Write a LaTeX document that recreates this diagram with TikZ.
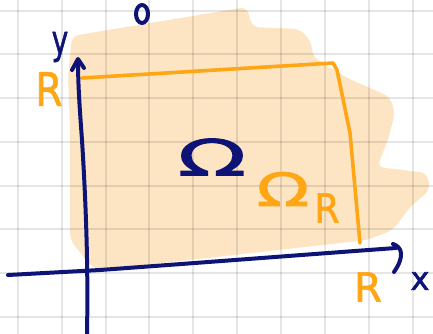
\documentclass[tikz,border=0pt]{standalone}
\usepackage{fontspec}
\setmainfont{DejaVu Sans}
\newfontfamily\handfont[FakeBold=1.6]{DejaVu Sans}
\definecolor{navy}{RGB}{14,20,118}
\definecolor{penorange}{RGB}{255,166,20}
\definecolor{peach}{RGB}{253,229,196}
\tikzset{
  bluepen/.style={draw=navy,line width=4pt,line cap=round,line join=round},
  orangepen/.style={draw=penorange,line width=3.6pt,line cap=round,line join=round},
  gridline/.style={draw=black,draw opacity=0.1,line width=1.3pt},
  bluelabel/.style={text=navy,inner sep=0pt,anchor=center},
  orangelabel/.style={text=penorange,inner sep=0pt,anchor=center}
}
\begin{document}
\begin{tikzpicture}[x=1pt,y=-1pt]
\useasboundingbox (0,0) rectangle (433,334);
\fill[white] (0,0) rectangle (433,334);
% shaded region
\fill[peach,rounded corners=7pt]
  (72,36) -- (247,7) -- (252,27) -- (300,29) -- (312,43) -- (312,56)
  -- (345,77) -- (390,97) -- (395,113) -- (388,140) -- (377,167)
  -- (427,173) -- (430,190) -- (410,207) -- (393,230) -- (367,240)
  -- (100,270) -- (93,268) -- (70,240) -- (70,127) -- (68,77) -- cycle;
% grid
\foreach \gx in {18,62,106,149,193,237,281,325,369,413}
  \draw[gridline] (\gx,0) -- (\gx,334);
\foreach \gy in {11,54,98,142,186,229,273,317}
  \draw[gridline] (0,\gy) -- (433,\gy);
% orange rectangle Omega_R
\draw[orangepen] (82,78) -- (333,63) -- (337,70) -- (350,133) -- (360,243);
% axes
\draw[bluepen] (8,275) -- (100,270) .. controls (250,259) and (340,252) .. (396,248);
\draw[bluepen] (393,244) .. controls (402,247) and (405,256) .. (394,272);
\draw[bluepen] (87,334) .. controls (88,280) and (87,220) .. (82,140) .. controls (79,100) and (78,80) .. (78,60);
\draw[bluepen] (72,70) -- (78,59) -- (84,68);
% top mark
\draw[bluepen] (142,14) ellipse [x radius=6, y radius=9];
% labels
\node[bluelabel,font=\handfont\fontsize{40}{40}\selectfont,xscale=0.7] (ylab) at (60,47) {y};
\node[bluelabel,font=\handfont\fontsize{32}{32}\selectfont] (xlab) at (420,281) {x};
\node[orangelabel,font=\handfont\fontsize{46}{46}\selectfont,xscale=0.85] (rleft) at (49,89) {R};
\node[orangelabel,font=\handfont\fontsize{40}{40}\selectfont] (rbottom) at (368,287) {R};
\node[bluelabel,font=\handfont\fontsize{50}{50}\selectfont,xscale=1.8] (omega) at (212,157) {Ω};
\node[orangelabel,font=\handfont\fontsize{46}{46}\selectfont,xscale=1.5] (omegar) at (283,189) {Ω};
\node[orangelabel,font=\handfont\fontsize{40}{40}\selectfont,xscale=0.9] (subr) at (327,208) {R};
\end{tikzpicture}
\end{document}
